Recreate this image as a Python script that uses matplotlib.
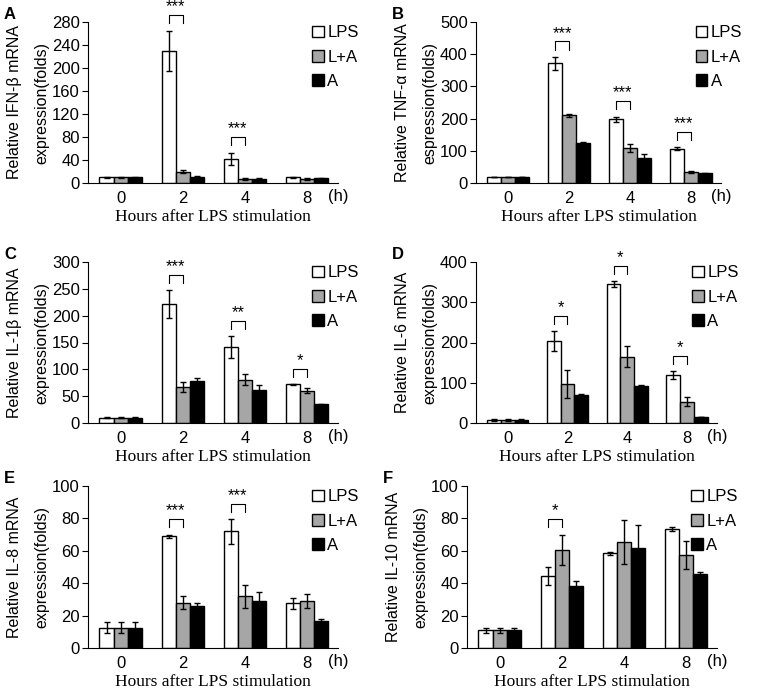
import numpy as np
import matplotlib.pyplot as plt

plt.rcParams['font.family'] = ['Liberation Sans', 'DejaVu Sans']

hours = ["0", "2", "4", "8"]
groups = ["LPS", "L+A", "A"]
colors = ["white", "#a6a6a6", "black"]

# A: IFN-beta
ifn_lps = [10, 230, 42, 10]
ifn_lps_err = [1, 35, 11, 1]
ifn_la = [10, 20, 7, 7]
ifn_la_err = [1, 2, 1, 2]
ifn_a = [10, 11, 7, 8]
ifn_a_err = [1, 2, 1, 1]
ifn_sig = ["", "***", "***", ""]

# B: TNF-alpha
tnf_lps = [20, 372, 198, 107]
tnf_lps_err = [0, 20, 8, 5]
tnf_la = [20, 210, 108, 35]
tnf_la_err = [0, 5, 13, 3]
tnf_a = [20, 125, 77, 30]
tnf_a_err = [0, 3, 12, 2]
tnf_sig = ["", "***", "***", "***"]

# C: IL-1beta
il1_lps = [10, 221, 142, 72]
il1_lps_err = [1, 26, 20, 1]
il1_la = [10, 67, 81, 60]
il1_la_err = [1, 9, 10, 5]
il1_a = [10, 78, 62, 35]
il1_a_err = [1, 6, 9, 1]
il1_sig = ["", "***", "**", "*"]

# D: IL-6
il6_lps = [7, 203, 345, 119]
il6_lps_err = [2, 25, 7, 9]
il6_la = [7, 97, 165, 53]
il6_la_err = [2, 35, 27, 12]
il6_a = [7, 70, 93, 15]
il6_a_err = [2, 2, 1, 1]
il6_sig = ["", "*", "*", "*"]

# E: IL-8
il8_lps = [12.5, 69, 72, 27.5]
il8_lps_err = [3.5, 1, 7.5, 3.5]
il8_la = [12.5, 28, 32, 29]
il8_la_err = [3.5, 4, 7, 4.5]
il8_a = [12.5, 26, 29, 16.5]
il8_a_err = [3.5, 1.5, 5.5, 1.5]
il8_sig = ["", "***", "***", ""]

# F: IL-10
il10_lps = [11, 44.5, 58.5, 73.5]
il10_lps_err = [1.5, 5.5, 1, 1]
il10_la = [11, 60.5, 65.5, 57.5]
il10_la_err = [1.5, 9.5, 13.5, 8.5]
il10_a = [11, 38, 61.5, 45.5]
il10_a_err = [1.5, 3.5, 14.5, 1.5]
il10_sig = ["", "*", "", ""]

panels = [
    ("A", "Relative IFN-\u03b2 mRNA\nexpression(folds)", 280, 40,
     [ifn_lps, ifn_la, ifn_a], [ifn_lps_err, ifn_la_err, ifn_a_err], ifn_sig,
     (88, 338, 22, 183)),
    ("B", "Relative TNF-\u03b1 mRNA\nespression(folds)", 500, 100,
     [tnf_lps, tnf_la, tnf_a], [tnf_lps_err, tnf_la_err, tnf_a_err], tnf_sig,
     (476, 721, 22, 183)),
    ("C", "Relative IL-1\u03b2 mRNA\nexpression(folds)", 300, 50,
     [il1_lps, il1_la, il1_a], [il1_lps_err, il1_la_err, il1_a_err], il1_sig,
     (88, 338, 262, 423)),
    ("D", "Relative IL-6 mRNA\nexpression(folds)", 400, 100,
     [il6_lps, il6_la, il6_a], [il6_lps_err, il6_la_err, il6_a_err], il6_sig,
     (476, 717, 262, 423)),
    ("E", "Relative IL-8 mRNA\nexpression(folds)", 100, 20,
     [il8_lps, il8_la, il8_a], [il8_lps_err, il8_la_err, il8_a_err], il8_sig,
     (88, 338, 486, 648)),
    ("F", "Relative IL-10 mRNA\nexpression(folds)", 100, 20,
     [il10_lps, il10_la, il10_a], [il10_lps_err, il10_la_err, il10_a_err], il10_sig,
     (467, 717, 486, 648)),
]

W, H = 767, 693
fig = plt.figure(figsize=(W / 100, H / 100), dpi=100)

x = np.arange(len(hours))
w = 0.23

for letter, ylab, ymax, ystep, vals, errs, sig, (l, r, t, b) in panels:
    ax = fig.add_axes([l / W, 1 - b / H, (r - l) / W, (b - t) / H])
    for j in range(3):
        ax.bar(x + (j - 1) * w, vals[j], w, color=colors[j], edgecolor="black",
               linewidth=1, label=groups[j],
               yerr=errs[j], capsize=2, error_kw=dict(elinewidth=1, capthick=1))
    ax.set_xlim(-0.53, 3.5)
    ax.set_ylim(0, ymax)
    ax.set_yticks(np.arange(0, ymax + 1, ystep))
    ax.set_xticks(x)
    ax.set_xticklabels(hours)
    ax.tick_params(axis="x", length=0, labelsize=12, pad=6)
    ax.tick_params(axis="y", length=4, labelsize=12, pad=2)
    for s in ["top", "right"]:
        ax.spines[s].set_visible(False)
    ax.set_ylabel(ylab, fontsize=11.5, linespacing=2.0, labelpad=2)
    ax.set_xlabel("Hours after LPS stimulation", fontsize=12.5,
                  family=["Liberation Serif"], labelpad=2)
    ax.text(1.0, -0.04, "(h)", transform=ax.transAxes, fontsize=12,
            ha="center", va="top")

    # significance brackets between LPS and L+A
    for i, s in enumerate(sig):
        if not s:
            continue
        top = max(vals[0][i] + errs[0][i], vals[1][i] + errs[1][i])
        y0 = top + 0.045 * ymax
        y1 = top + 0.095 * ymax
        x0 = x[i] - w
        x1 = x[i]
        ax.plot([x0, x0, x1, x1], [y0, y1, y1, y0], color="black",
                linewidth=0.8, clip_on=False)
        ax.text((x0 + x1) / 2, y1 + 0.005 * ymax, s, ha="center", va="bottom",
                fontsize=12, clip_on=False)

    ax.legend(loc="upper left", bbox_to_anchor=(0.87, 1.02), frameon=False,
              fontsize=12, handlelength=0.7, handleheight=0.7,
              handletextpad=0.2, labelspacing=0.55, borderaxespad=0)

    fig.text((l - 84) / W, 1 - (t - 15) / H, letter, fontsize=12,
             fontweight="bold", ha="left", va="top")

fig.savefig("out.png", dpi=100)
